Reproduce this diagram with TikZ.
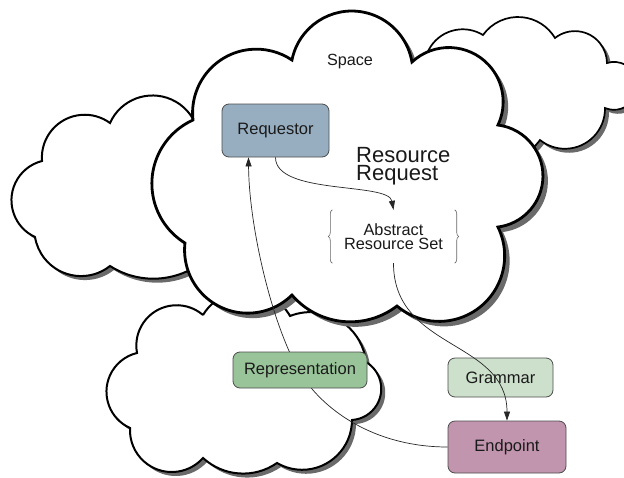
\documentclass[tikz,border=0pt]{standalone}
\usepackage{fontspec}
\setmainfont{Liberation Sans}
\usetikzlibrary{arrows.meta,decorations.pathreplacing}

% A cloud outline is a chain of circular bumps between notch points,
% run clockwise on the page (y grows downwards).
% \addbump{x1}{y1}{x2}{y2}{h}: bump from notch 1 to notch 2 whose crest
% lies h away from the chord, on the outer side.
\newcommand\addbump[5]{%
  \pgfmathsetmacro\bdx{#3-(#1)}%
  \pgfmathsetmacro\bdy{#4-(#2)}%
  \pgfmathsetmacro\bhc{veclen(\bdx,\bdy)/2}%
  \pgfmathsetmacro\br{\bhc*\bhc/(2*#5)+#5/2}%
  \pgfmathsetmacro\bnx{\bdy/(2*\bhc)}%
  \pgfmathsetmacro\bny{-1*(\bdx)/(2*\bhc)}%
  \pgfmathsetmacro\bcx{(#1+#3)/2+(#5-\br)*\bnx}%
  \pgfmathsetmacro\bcy{(#2+#4)/2+(#5-\br)*\bny}%
  \pgfmathsetmacro\ba{atan2(#2-\bcy,#1-\bcx)}%
  \pgfmathsetmacro\bb{atan2(#4-\bcy,#3-\bcx)}%
  \pgfmathsetmacro\bd{mod(\bb-\ba+720,360)}%
  \xdef\cloudpath{\cloudpath arc[radius=\br,start angle=\ba,delta angle=\bd]}%
}

\definecolor{cloudshadow}{HTML}{6A6A6A}
\definecolor{boxline}{HTML}{4D4D4D}
\definecolor{reqfill}{HTML}{97AEC1}
\definecolor{repfill}{HTML}{99C499}
\definecolor{gramfill}{HTML}{CCE0CC}
\definecolor{endfill}{HTML}{C295AE}
\definecolor{txt}{HTML}{1A1A1A}

% shadow first, then the white cloud with its outline:
% outline width, shadow offset x, shadow offset y
\newcommand\drawcloudpath[3]{%
  \fill[cloudshadow,shift={(#2,#3)}] \cloudpath -- cycle;
  \draw[line width=#1,fill=white,line join=miter,miter limit=4] \cloudpath -- cycle;}

\tikzset{
  box/.style={draw=boxline,line width=0.8pt,rounded corners=7pt,
    text=txt,font=\fontsize{16.5}{19}\selectfont,inner sep=0pt},
  conn/.style={line width=0.7pt,draw=black!85},
  tip/.style={-{Triangle[length=9pt,width=6pt]}},
  brc/.style={draw=black!60,line width=0.6pt,decorate,
    decoration={brace,amplitude=4pt}},
  lbl/.style={text=txt,inner sep=0pt}
}

\begin{document}
\begin{tikzpicture}[x=1pt,y=-1pt]
\useasboundingbox (0,0) rectangle (624,477);

% left cloud
\gdef\cloudpath{(110,123)}
\addbump{110}{123}{197}{128}{30}
\addbump{197}{128}{215}{250}{30}
\addbump{215}{250}{110}{266}{20}
\addbump{110}{266}{35}{237}{23}
\addbump{35}{237}{42}{161}{27}
\addbump{42}{161}{110}{123}{25}
\drawcloudpath{2pt}{4}{4}

% upper right cloud, running off the right edge
\gdef\cloudpath{(425,75)}
\addbump{425}{75}{483}{35}{23}
\addbump{483}{35}{555}{38}{19.5}
\addbump{555}{38}{607}{63}{18}
\addbump{607}{63}{605}{108}{32}
\addbump{605}{108}{540}{140}{23}
\addbump{540}{140}{470}{150}{15}
\addbump{470}{150}{425}{75}{20}
\drawcloudpath{1.7pt}{4}{4}

% lower cloud
\gdef\cloudpath{(203,315)}
\addbump{203}{315}{290}{316}{25}
\addbump{290}{316}{366}{362}{22}
\addbump{366}{362}{352}{420}{22}
\addbump{352}{420}{277}{463}{25}
\addbump{277}{463}{203}{458}{13}
\addbump{203}{458}{130}{428}{28}
\addbump{130}{428}{137}{353}{27}
\addbump{137}{353}{203}{315}{27}
\drawcloudpath{2pt}{4}{4}

% the Space cloud
\gdef\cloudpath{(193,120)}
\addbump{193}{120}{292}{60}{37}
\addbump{292}{60}{412}{62}{50}
\addbump{412}{62}{498}{125}{44}
\addbump{498}{125}{498}{227}{45}
\addbump{498}{227}{397}{306}{52}
\addbump{397}{306}{292}{295}{21}
\addbump{292}{295}{185}{243}{42}
\addbump{185}{243}{193}{120}{37}
\drawcloudpath{2.8pt}{5}{5}

\node[lbl,font=\fontsize{16.2}{19}\selectfont] (space) at (350,62) {Space};

\node[box,fill=reqfill,minimum width=107pt,minimum height=53pt]
  (req) at (275.5,130.5) {Requestor};

\node[lbl,align=left,anchor=north west,font=\fontsize{22}{18}\selectfont]
  (rr) at (356,147) {Resource\\Request};

\node[lbl,align=center,minimum width=122pt,minimum height=53pt,
  font=\fontsize{16.3}{13.5}\selectfont] (ars) at (393.5,236.5)
  {Abstract\\Resource Set};
\draw[brc] (ars.south west) -- (ars.north west);
\draw[brc] (ars.north east) -- (ars.south east);

\node[box,fill=gramfill,minimum width=105pt,minimum height=39pt]
  (gram) at (500.5,377.5) {Grammar};
\node[box,fill=endfill,minimum width=118pt,minimum height=52pt]
  (ep) at (507,447) {Endpoint};

% connectors
\draw[conn,tip] (req.south) .. controls +(0,38) and +(-5,-28) .. (ars.north);
\draw[conn,tip] (ars.south) .. controls +(0,87) and +(0,-81) .. (ep.north);
\draw[conn,tip] (ep.west) .. controls +(-68,0) and (330,415) .. (305,380)
  .. controls (275,338) and (249,230) .. ([xshift=-27pt]req.south);

\node[box,fill=repfill,minimum width=134pt,minimum height=36pt]
  (rep) at (300,370) {Representation};
\end{tikzpicture}
\end{document}
